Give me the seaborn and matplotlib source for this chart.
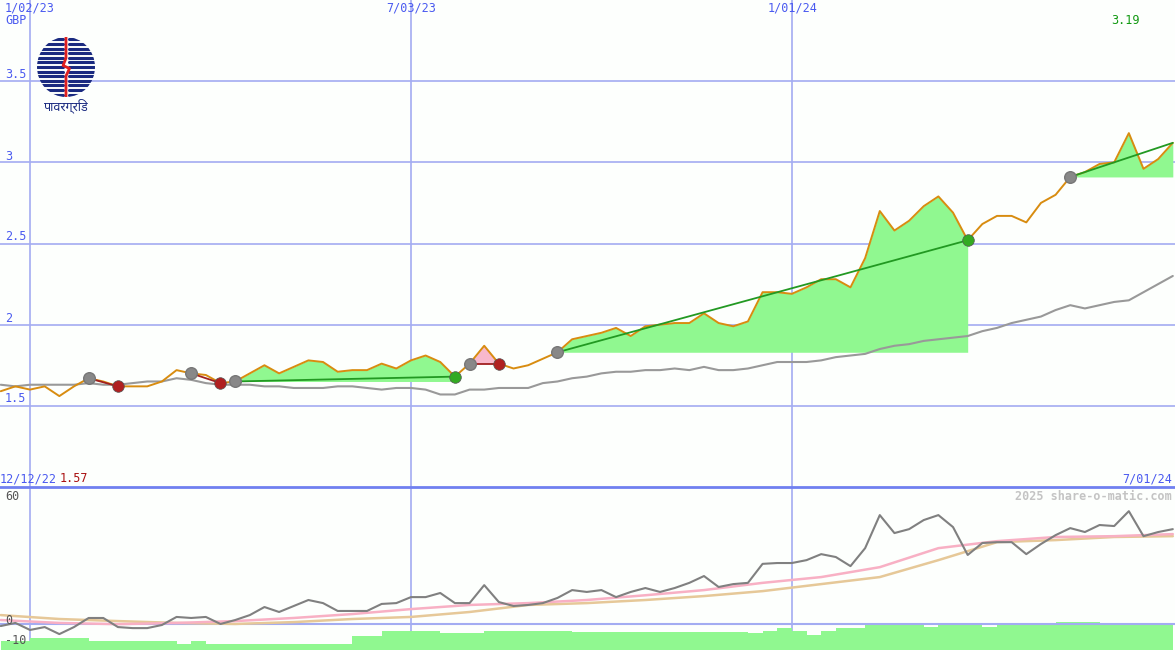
import numpy as np
import pandas as pd
import matplotlib
matplotlib.use("Agg")
import matplotlib.pyplot as plt
import matplotlib.patches as mpatches
import seaborn as sns

sns.set_style("white")
plt.rcParams['font.family'] = ['DejaVu Sans Mono', 'DejaVu Sans']

# weekly data, week 0 = 1/02/23
price = [1.59,1.62,1.60,1.62,1.56,1.62,1.67,1.65,1.62,1.62,1.62,1.65,1.72,1.70,1.69,1.64,
         1.65,1.70,1.75,1.70,1.74,1.78,1.77,1.71,1.72,1.72,1.76,1.73,1.78,1.81,1.77,1.68,
         1.76,1.87,1.76,1.73,1.75,1.79,1.83,1.91,1.93,1.95,1.98,1.93,1.99,2.00,2.01,2.01,
         2.07,2.01,1.99,2.02,2.20,2.20,2.19,2.23,2.28,2.28,2.23,2.41,2.70,2.58,2.64,2.73,
         2.79,2.69,2.52,2.62,2.67,2.67,2.63,2.75,2.80,2.91,2.94,2.99,3.00,3.18,2.96,3.02,3.12]
ma = [1.63,1.62,1.63,1.63,1.63,1.63,1.64,1.63,1.63,1.64,1.65,1.65,1.67,1.66,1.64,1.63,
      1.63,1.63,1.62,1.62,1.61,1.61,1.61,1.62,1.62,1.61,1.60,1.61,1.61,1.60,1.57,1.57,
      1.60,1.60,1.61,1.61,1.61,1.64,1.65,1.67,1.68,1.70,1.71,1.71,1.72,1.72,1.73,1.72,
      1.74,1.72,1.72,1.73,1.75,1.77,1.77,1.77,1.78,1.80,1.81,1.82,1.85,1.87,1.88,1.90,
      1.91,1.92,1.93,1.96,1.98,2.01,2.03,2.05,2.09,2.12,2.10,2.12,2.14,2.15,2.20,2.25,2.30]
# trades: (entry week, exit week, win?)
trades = [(4, 6, False), (11, 13, False), (14, 29, True), (30, 32, False), (36, 64, True), (71, 78, True)]
open_trade = 71

mom = [-2.9,-1.4,-4.8,-3.4,-6.8,-3.4,1.0,1.0,-3.4,-3.9,-3.9,-2.4,1.5,1.0,1.5,-1.9,0.0,2.4,
       6.3,3.9,6.8,9.7,8.2,4.4,4.4,4.4,7.8,8.2,11.1,11.1,13.1,8.2,8.2,16.9,8.7,6.8,7.3,8.2,
       10.7,14.5,13.6,14.5,11.1,13.6,15.5,13.6,15.5,18.0,21.3,16.0,17.4,18.0,27.2,27.6,27.6,
       29.0,31.9,30.5,26.1,34.8,50.8,42.1,44.0,48.4,50.8,45.0,31.5,37.3,37.7,37.7,31.9,36.8,
       41.1,44.5,42.6,46.0,45.5,52.7,40.6,42.6,44.0]
ma_weeks = [-2,2,6,10,14,18,22,26,30,34,38,42,46,50,54,58,62,66,70,74,78]
pink = [0,-1.4,-2,-1.4,-0.5,1,2.9,5.3,7.3,8.2,9.7,12,14.5,18,20.8,25.6,34.8,38.2,40.2,40.6,41.6]
tan = [2.4,0.5,-0.5,-1.4,-1.9,-1,0.5,1.5,3.9,7.3,8.2,9.7,11.6,14,17.4,20.8,29,37.7,38.7,40.2,40.6]
vol = ([-10.1]*2 + [-8.7]*4 + [-10.1]*6 + [-11.6] + [-10.1] + [-11.6]*10 + [-7.7]*2 +
       [-5.3]*4 + [-6.2]*3 + [-5.3]*6 + [-5.8]*12 + [-6.2] +
       [-5.3,-3.9,-5.3,-7.2,-5.3,-3.9,-3.9,-2.4,-2.4,-2.4,-2.4,
        -3.4,-2.4,-2.4,-2.4,-3.4,-2.4,-2.4,-2.4,-2.4,-1.0,-1.0,-1.0,-2.4,-2.4,-2.4,-2.4,-2.4,-2.4])

weeks = np.arange(len(price)) - 2
W, H = 1175, 650
BG = '#fdfffd'; GRID = '#a3acf2'; BLUE = '#4a5af0'; FILLG = '#90f890'
fig = plt.figure(figsize=(W/100, H/100), dpi=100, facecolor=BG)
x0, x1 = -2.05, 78.15
ax = fig.add_axes([0, 163/H, 1, 487/H], facecolor=BG)
bx = fig.add_axes([0, 0, 1, 163/H], facecolor=BG)
for a in (ax, bx):
    a.set_xlim(x0, x1)
    a.set_xticks([]); a.set_yticks([])
    for s in a.spines.values(): s.set_visible(False)
    for v in (0, 26, 52):
        a.axvline(v, color=GRID, lw=1.2, zorder=0)
ax.set_ylim(1.0, 4.0)
for v in (1.5, 2, 2.5, 3, 3.5):
    ax.axhline(v, color=GRID, lw=1.2, zorder=0)

df = pd.DataFrame({'w': weeks, 'price': price, 'ma': ma[:len(weeks)]})
for e, x, win in trades:
    seg = df[(df.w >= e) & (df.w <= x)]
    ep = seg.price.iloc[0]
    ax.fill_between(seg.w, ep, seg.price, where=seg.price >= ep, interpolate=True,
                    color=FILLG if win else '#f8b8cc', lw=0, zorder=1)
sns.lineplot(data=df, x='w', y='ma', ax=ax, color='#999999', lw=1.5, zorder=2)
sns.lineplot(data=df, x='w', y='price', ax=ax, color='#d88c10', lw=1.4, zorder=3)
for e, x, win in trades:
    pe = df.price[df.w == e].iloc[0]; px = df.price[df.w == x].iloc[0]
    ax.plot([e, x], [pe, px], color='#229922' if win else '#a02020', lw=1.3, zorder=4)
    ax.scatter([e], [pe], s=70, color='#888888', zorder=5, edgecolor='#777777')
    if e != open_trade:
        ax.scatter([x], [px], s=70, color='#33aa22' if win else '#b02020', zorder=5,
                   edgecolor='#555555', lw=0.5)
ax.set_xlabel(''); ax.set_ylabel('')

bx.set_ylim(-14.5, 64.4)
vw = np.arange(len(vol)) - 2
bx.fill_between(vw, -14.5, vol, step='post', color=FILLG, lw=0, zorder=1)
bx.axhline(-2, color=GRID, lw=1.5, zorder=1)
bdf = pd.DataFrame({'w': ma_weeks, 'pink': pink, 'tan': tan})
sns.lineplot(data=bdf, x='w', y='tan', ax=bx, color='#e6c898', lw=1.8, zorder=2)
sns.lineplot(data=bdf, x='w', y='pink', ax=bx, color='#f8b0c4', lw=1.8, zorder=2)
mdf = pd.DataFrame({'w': np.arange(len(mom)) - 2, 'mom': mom})
sns.lineplot(data=mdf, x='w', y='mom', ax=bx, color='#808080', lw=1.5, zorder=3)
bx.set_xlabel(''); bx.set_ylabel('')
bx.spines['top'].set_visible(True); bx.spines['top'].set_color('#7080f0'); bx.spines['top'].set_linewidth(2)

def t(x, y, s, c=BLUE, ha='left', **k):
    fig.text(x/W, 1-y/H, s, color=c, ha=ha, va='center', fontsize=8.5, **k)
t(30, 8, '1/02/23', ha='center'); t(411, 8, '7/03/23', ha='center'); t(793, 8, '1/01/24', ha='center')
t(5, 20, 'GBP')
for lab, yy in (('3.5', 75), ('3', 156), ('2.5', 237), ('2', 318), ('1.5', 399)):
    t(5, yy, lab)
t(1125, 21, '3.19', c='#119911', ha='center')
t(0, 479, '12/12/22'); t(60, 479, '1.57', c='#aa1111')
t(1172, 479, '7/01/24', ha='right')
t(1172, 496, '2025 share-o-matic.com', c='#c4c4c4', ha='right', fontweight='bold')
t(5, 496, '60', c='#555555'); t(5, 620, '0', c='#555555'); t(5, 641, '-10', c='#555555')

# simple logo
lg = fig.add_axes([37/W, 1-97/H, 58/W, 60/H]); lg.set_xlim(-1, 1); lg.set_ylim(-1, 1); lg.axis('off')
circ = mpatches.Circle((0, 0), 1, transform=lg.transData)
for yy in np.linspace(-0.92, 0.92, 13):
    for xs in ([-1, -0.12], [0.12, 1]):
        ln, = lg.plot(xs, [yy, yy], color='#1a2a80', lw=2.2)
        ln.set_clip_path(circ)
lg.plot([0.0, 0.0, -0.1, 0.12, 0.0, 0.0], [1, 0.3, 0.05, -0.05, -0.3, -1], color='#e02020', lw=2)
fig.text(66/W, 1-106/H, 'पावरग्रिड', color='#1a2a80', ha='center', va='center', fontsize=9,
         family=['Noto Sans', 'DejaVu Sans'])
fig.savefig('out.png', dpi=100, facecolor=BG)
